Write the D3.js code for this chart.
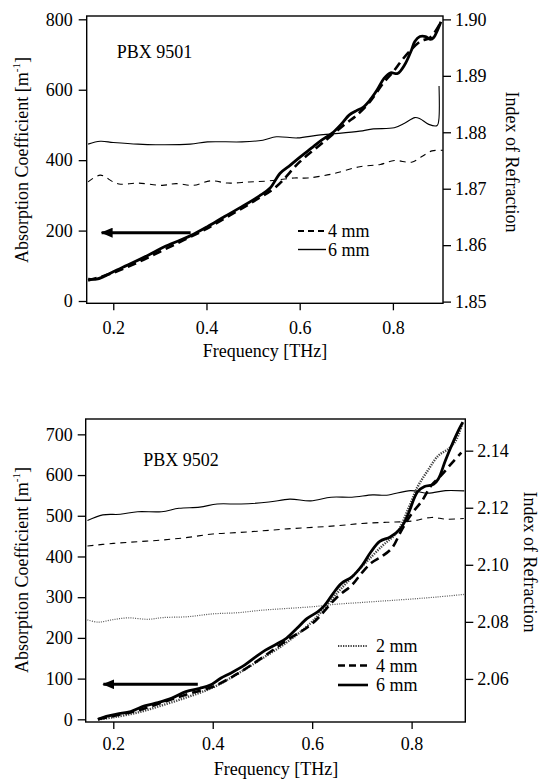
<!DOCTYPE html>
<html>
<head>
<meta charset="utf-8">
<script src="https://cdn.jsdelivr.net/npm/d3@7"></script>
<style>
    body { margin: 0; background: #fff; }
    svg text { font-family: "Liberation Serif", "DejaVu Serif", serif; fill: #000; }
</style>
</head>
<body>
<div id="chart"></div>
<script>

/*
 * Data (frequency in THz)
 */

var freqTicks = [0.2, 0.4, 0.6, 0.8];

// ---- PBX 9501 ----
var absTicks9501 = [0, 200, 400, 600, 800];
var idxTicks9501 = [1.85, 1.86, 1.87, 1.88, 1.89, 1.90];

var abs6mm9501Freq = [0.146,0.164,0.179,0.2,0.239,0.276,0.313,0.365,0.402,0.439,0.476,0.513,0.536,0.558,0.58,0.602,0.625,0.647,0.669,0.691,0.706,0.721,0.736,0.751,0.766,0.781,0.795,0.81,0.825,0.84,0.847,0.858,0.87,0.881,0.888,0.896,0.903];
var abs6mm9501 = [62,62,69,83,107,131,156,185,211,240,268,298,320,363,386,410,434,457,476,505,528,540,550,571,599,632,648,646,670,713,737,751,751,743,749,770,793];

var abs4mm9501Freq = [0.146,0.2,0.25,0.3,0.35,0.4,0.45,0.5,0.55,0.6,0.65,0.7,0.72,0.75,0.78,0.8,0.82,0.84,0.86,0.88,0.9];
var abs4mm9501 = [58,80,108,140,172,205,243,282,325,395,450,505,525,565,620,650,685,715,738,748,785];

var idx6mm9501Freq = [0.146,0.172,0.2,0.253,0.291,0.365,0.402,0.476,0.521,0.55,0.595,0.64,0.684,0.729,0.758,0.803,0.825,0.847,0.858,0.877,0.895,0.8985,0.899];
var idx6mm9501 = [1.8779,1.8784,1.8782,1.8779,1.8778,1.8779,1.8783,1.8783,1.8786,1.8792,1.879,1.8795,1.8798,1.8802,1.8806,1.8808,1.8816,1.8826,1.8824,1.8814,1.8812,1.8822,1.8882];

var idx4mm9501Freq = [0.146,0.172,0.2,0.216,0.253,0.305,0.335,0.372,0.409,0.446,0.491,0.536,0.588,0.617,0.669,0.729,0.773,0.803,0.84,0.862,0.884,0.907];
var idx4mm9501 = [1.8712,1.8724,1.8712,1.8708,1.871,1.8706,1.8709,1.8706,1.8714,1.871,1.8712,1.8714,1.8719,1.8719,1.8726,1.8739,1.8743,1.875,1.8747,1.8757,1.8767,1.8768];

var arrow9501Freq = [0.366, 0.175];
var arrow9501Abs = [194, 194];

// ---- PBX 9502 ----
var absTicks9502 = [0, 100, 200, 300, 400, 500, 600, 700];
var idxTicks9502 = [2.06, 2.08, 2.10, 2.12, 2.14];

var abs6mm9502Freq = [0.169,0.186,0.207,0.235,0.263,0.29,0.318,0.346,0.374,0.395,0.416,0.437,0.464,0.485,0.506,0.527,0.548,0.569,0.59,0.611,0.625,0.642,0.659,0.68,0.701,0.718,0.736,0.757,0.778,0.792,0.812,0.826,0.844,0.854,0.868,0.882,0.896,0.903];
var abs6mm9502 = [0,7,13,19,33,41,52,68,76,84,101,114,133,152,170,184,199,223,248,264,280,309,334,350,379,411,437,448,469,501,559,572,577,591,636,677,714,730];

var abs4mm9502Freq = [0.169,0.2,0.25,0.3,0.35,0.4,0.45,0.5,0.55,0.6,0.65,0.68,0.7,0.72,0.74,0.76,0.78,0.8,0.82,0.84,0.86,0.88,0.9];
var abs4mm9502 = [0,8,22,42,62,80,112,152,195,235,300,330,360,385,400,420,465,505,535,575,600,628,655];

var abs2mm9502Freq = [0.17,0.2,0.25,0.3,0.35,0.4,0.45,0.5,0.55,0.6,0.65,0.7,0.74,0.771,0.795,0.812,0.833,0.854,0.875,0.889,0.903];
var abs2mm9502 = [0,5,17,35,55,78,112,150,190,240,310,375,425,460,522,571,612,648,665,685,730];

var idx6mm9502Freq = [0.148,0.179,0.214,0.249,0.297,0.332,0.374,0.409,0.457,0.513,0.555,0.597,0.638,0.68,0.722,0.75,0.798,0.833,0.868,0.906];
var idx6mm9502 = [2.1155,2.1175,2.1177,2.1186,2.1186,2.1198,2.1202,2.1213,2.1213,2.122,2.123,2.1224,2.1237,2.1237,2.1245,2.1244,2.126,2.1251,2.126,2.1259];

var idx4mm9502Freq = [0.148,0.2,0.25,0.3,0.35,0.4,0.45,0.5,0.55,0.6,0.65,0.7,0.75,0.8,0.84,0.87,0.905];
var idx4mm9502 = [2.1066,2.1075,2.1081,2.1087,2.1096,2.1108,2.1113,2.1119,2.1126,2.1131,2.1137,2.1145,2.1149,2.1153,2.1166,2.116,2.1162];

var idx2mm9502Freq = [0.148,0.17,0.2,0.23,0.27,0.3,0.35,0.4,0.45,0.5,0.55,0.6,0.65,0.7,0.75,0.8,0.85,0.905];
var idx2mm9502 = [2.0807,2.0799,2.0808,2.0814,2.0809,2.0815,2.0818,2.0828,2.0832,2.0841,2.0847,2.0853,2.0862,2.0868,2.0874,2.088,2.0887,2.0896];

var arrow9502Freq = [0.37, 0.18];
var arrow9502Abs = [86, 86];


/*
 * Line styles
 */
var styles = {
    abs6:  { width: 2.8, dash: null,      color: "#000" },
    abs4:  { width: 2.6, dash: "9,5",     color: "#000" },
    abs2:  { width: 2.4, dash: "1.3,1.2", color: "#444" },
    idx6:  { width: 1.1, dash: null,      color: "#000" },
    idx4:  { width: 1.1, dash: "6,5",     color: "#000" },
    idx2:  { width: 1.2, dash: "1,1.3",   color: "#555" }
};

var serif = "'Liberation Serif', 'DejaVu Serif', serif";

function zip(xs, ys) {
    return xs.map(function(d, i) { return [d, ys[i]]; });
}

var svg = d3.select("#chart").append("svg")
    .attr("width", 541)
    .attr("height", 780);

svg.append("defs").append("marker")
    .attr("id", "arrowhead")
    .attr("viewBox", "0 0 12 10")
    .attr("refX", 11)
    .attr("refY", 5)
    .attr("markerWidth", 12)
    .attr("markerHeight", 10)
    .attr("markerUnits", "userSpaceOnUse")
    .attr("orient", "auto")
    .append("path")
    .attr("d", "M0,0 L12,5 L0,10 Z")
    .attr("fill", "#000");


/*
 * One panel: frame, two y axes, x axis, curves, legend, arrow
 */
function drawPanel(p) {
    var g = svg.append("g").style("font-family", serif);

    var x = d3.scaleLinear().domain(p.xDomain).range([p.left, p.right]);
    var yA = d3.scaleLinear().domain(p.absDomain).range([p.bottom, p.top]);
    var yN = d3.scaleLinear().domain(p.idxDomain).range([p.bottom, p.top]);

    // axes
    var axL = g.append("g")
        .attr("transform", "translate(" + p.left + ",0)")
        .call(d3.axisLeft(yA).tickValues(p.absTicks).tickSize(8).tickPadding(p.padL).tickFormat(d3.format("d")));
    var axR = g.append("g")
        .attr("transform", "translate(" + p.right + ",0)")
        .call(d3.axisRight(yN).tickValues(p.idxTicks).tickSize(8).tickPadding(4).tickFormat(d3.format(".2f")));
    var axB = g.append("g")
        .attr("transform", "translate(0," + p.bottom + ")")
        .call(d3.axisBottom(x).tickValues(freqTicks).tickSize(7).tickPadding(p.padB).tickFormat(d3.format(".1f")));

    [axL, axR, axB].forEach(function(ax) {
        ax.attr("font-family", serif).attr("font-size", 18);
        ax.select(".domain").remove();
        ax.selectAll("line").attr("stroke", "#000").attr("stroke-width", 1.3);
        ax.selectAll("text").attr("fill", "#000");
    });

    // frame
    g.append("rect")
        .attr("x", p.left).attr("y", p.top)
        .attr("width", p.right - p.left).attr("height", p.bottom - p.top)
        .attr("fill", "none").attr("stroke", "#000").attr("stroke-width", 1.4);

    // curves
    var lineA = d3.line().x(function(d) { return x(d[0]); }).y(function(d) { return yA(d[1]); })
        .curve(d3.curveCatmullRom.alpha(0.5));
    var lineN = d3.line().x(function(d) { return x(d[0]); }).y(function(d) { return yN(d[1]); })
        .curve(d3.curveCatmullRom.alpha(0.5));

    p.series.forEach(function(s) {
        var st = styles[s.style];
        g.append("path")
            .datum(zip(s.freq, s.values))
            .attr("d", s.axis === "abs" ? lineA : lineN)
            .attr("fill", "none")
            .attr("stroke", st.color)
            .attr("stroke-width", st.width)
            .attr("stroke-dasharray", st.dash)
            .attr("stroke-linejoin", "round");
    });

    // arrow pointing to the left axis
    g.append("line")
        .attr("x1", x(p.arrowFreq[0])).attr("y1", yA(p.arrowAbs[0]))
        .attr("x2", x(p.arrowFreq[1])).attr("y2", yA(p.arrowAbs[1]))
        .attr("stroke", "#000").attr("stroke-width", 3)
        .attr("marker-end", "url(#arrowhead)");

    // panel label
    g.append("text")
        .attr("x", p.labelX).attr("y", p.labelY)
        .style("font-size", "18px")
        .text(p.label);

    // legend
    p.legend.forEach(function(l, i) {
        var st = styles[l.style];
        var ly = p.legendY + i * p.legendStep;
        g.append("line")
            .attr("x1", p.legendX).attr("x2", p.legendX + p.legendLen)
            .attr("y1", ly).attr("y2", ly)
            .attr("stroke", st.color)
            .attr("stroke-width", l.width)
            .attr("stroke-dasharray", l.dash);
        g.append("text")
            .attr("x", p.legendX + p.legendLen + p.legendGap).attr("y", ly + 6)
            .style("font-size", "18px")
            .text(l.name);
    });

    // axis titles
    var tl = g.append("text")
        .attr("transform", "translate(" + p.titleLX + "," + p.titleLY + ") rotate(-90)")
        .attr("text-anchor", "middle")
        .attr("dy", "0.35em")
        .style("font-size", "18px");
    tl.append("tspan").text("Absorption Coefficient [m");
    tl.append("tspan").attr("dy", -8).style("font-size", "11px").text("-1");
    tl.append("tspan").attr("dy", 8).text("]");

    g.append("text")
        .attr("transform", "translate(" + p.titleRX + "," + p.titleRY + ") rotate(90)")
        .attr("text-anchor", "middle")
        .attr("dy", "0.35em")
        .style("font-size", "18px")
        .text("Index of Refraction");

    g.append("text")
        .attr("x", p.freqX).attr("y", p.freqY)
        .attr("text-anchor", "middle")
        .style("font-size", "18px")
        .text("Frequency [THz]");
}


drawPanel({
    left: 86.7, right: 443, top: 16, bottom: 303.3,
    xDomain: [0.143, 0.9075],
    absDomain: [-6.5, 809.4],
    idxDomain: [1.8497, 1.9006],
    absTicks: absTicks9501, idxTicks: idxTicks9501,
    padL: 6, padB: 11,
    series: [
        { axis: "idx", style: "idx4", freq: idx4mm9501Freq, values: idx4mm9501 },
        { axis: "idx", style: "idx6", freq: idx6mm9501Freq, values: idx6mm9501 },
        { axis: "abs", style: "abs4", freq: abs4mm9501Freq, values: abs4mm9501 },
        { axis: "abs", style: "abs6", freq: abs6mm9501Freq, values: abs6mm9501 }
    ],
    arrowFreq: arrow9501Freq, arrowAbs: arrow9501Abs,
    label: "PBX 9501", labelX: 116.7, labelY: 58,
    legend: [
        { name: "4 mm", style: "abs4", width: 2.2, dash: "6,4" },
        { name: "6 mm", style: "idx6", width: 1.4, dash: null }
    ],
    legendX: 298, legendY: 231, legendStep: 18.5, legendLen: 28, legendGap: 2,
    titleLX: 22, titleLY: 160,
    titleRX: 512, titleRY: 162,
    freqX: 265, freqY: 357
});

drawPanel({
    left: 85.7, right: 465.3, top: 419, bottom: 722,
    xDomain: [0.1445, 0.908],
    absDomain: [-6.6, 737.7],
    idxDomain: [2.0449, 2.1511],
    absTicks: absTicks9502, idxTicks: idxTicks9502,
    padL: 5, padB: 8,
    series: [
        { axis: "idx", style: "idx2", freq: idx2mm9502Freq, values: idx2mm9502 },
        { axis: "idx", style: "idx4", freq: idx4mm9502Freq, values: idx4mm9502 },
        { axis: "idx", style: "idx6", freq: idx6mm9502Freq, values: idx6mm9502 },
        { axis: "abs", style: "abs2", freq: abs2mm9502Freq, values: abs2mm9502 },
        { axis: "abs", style: "abs4", freq: abs4mm9502Freq, values: abs4mm9502 },
        { axis: "abs", style: "abs6", freq: abs6mm9502Freq, values: abs6mm9502 }
    ],
    arrowFreq: arrow9502Freq, arrowAbs: arrow9502Abs,
    label: "PBX 9502", labelX: 143.3, labelY: 466,
    legend: [
        { name: "2 mm", style: "abs2", width: 2.2, dash: "1.3,1.2" },
        { name: "4 mm", style: "abs4", width: 2.6, dash: "7,4" },
        { name: "6 mm", style: "abs6", width: 2.6, dash: null }
    ],
    legendX: 338, legendY: 646, legendStep: 19.5, legendLen: 30, legendGap: 8,
    titleLX: 22, titleLY: 570,
    titleRX: 530, titleRY: 562,
    freqX: 276, freqY: 775
});

</script>
</body>
</html>
